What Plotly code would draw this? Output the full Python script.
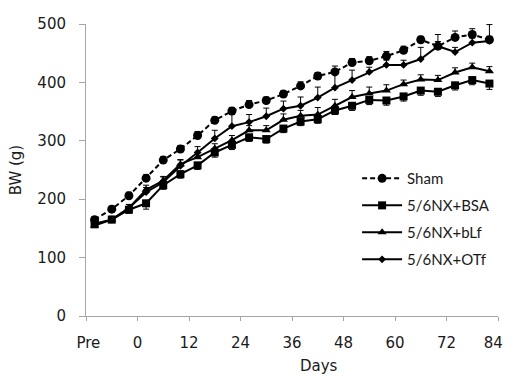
import plotly.graph_objects as go

# Sampling days (Pre-operative points are plotted before day 0)
days = [-10, -6, -2, 2, 6, 10, 14, 18, 22, 26, 30, 34,
        38, 42, 46, 50, 54, 58, 62, 66, 70, 74, 78, 82]

# Axis tick positions and labels
tick_days = [-12, 0, 12, 24, 36, 48, 60, 72, 84]
tick_text = ["\u00a0Pre", "0", "12", "24", "36", "48", "60", "72", "84\u00a0\u00a0"]

# Body weight (g), group means
sham = [165, 183, 206, 236, 267, 286, 309, 335, 351, 362, 369, 380,
        394, 411, 418, 434, 437, 445, 455, 473, 462, 477, 482, 473]
bsa = [157, 165, 182, 193, 224, 243, 258, 280, 293, 306, 303, 321,
       333, 337, 352, 360, 370, 369, 376, 386, 384, 395, 404, 398]
blf = [155, 165, 185, 216, 232, 260, 272, 287, 301, 318, 318, 336,
       343, 345, 360, 375, 381, 386, 397, 405, 404, 417, 426, 419]
otf = [158, 165, 185, 212, 229, 257, 280, 304, 325, 332, 342, 355,
       360, 374, 391, 404, 418, 430, 430, 440, 462, 452, 468, 471]

# Error (SE) for each group
sham_err = [5, 5, 6, 6, 6, 6, 7, 6, 6, 7, 6, 6, 7, 6, 10, 7, 7, 8, 7, 6, 20, 11, 10, 26]
bsa_err = [5, 5, 6, 10, 7, 7, 7, 8, 8, 7, 7, 7, 7, 7, 7, 8, 8, 8, 8, 8, 8, 8, 8, 10]
blf_err = [5, 5, 6, 8, 7, 8, 8, 8, 8, 8, 8, 10, 9, 12, 11, 11, 11, 10, 7, 8, 8, 8, 7, 8]
otf_err = [5, 6, 6, 8, 9, 10, 10, 14, 20, 13, 14, 13, 15, 18, 28, 17, 8, 8, 8, 20, 8, 8, 8, 8]

zeros = [0] * len(days)

fig = go.Figure()


def add_series(name, y, err, symbol, size, dash, minus=False):
    if minus:
        ebar = dict(type="data", symmetric=False, array=zeros, arrayminus=err,
                    color="black", thickness=1, width=3)
    else:
        ebar = dict(type="data", symmetric=False, array=err, arrayminus=zeros,
                    color="black", thickness=1, width=3)
    fig.add_trace(go.Scatter(
        x=days, y=y, name=name, mode="lines+markers",
        legendgroup=name,
        line=dict(color="black", width=2, dash=dash),
        marker=dict(symbol=symbol, size=size, color="black"),
        error_y=ebar,
    ))


add_series("Sham", sham, sham_err, "circle", 9, "5px,3px")
add_series("5/6NX+BSA", bsa, bsa_err, "square", 8, "solid", minus=True)
add_series("5/6NX+bLf", blf, blf_err, "triangle-up", 8, "solid")
add_series("5/6NX+OTf", otf, otf_err, "diamond", 6, "solid")

tick_font = dict(family="DejaVu Sans, sans-serif", size=15, color="#1a1a1a")
axis_grey = "#a6a6a6"

fig.update_layout(
    width=520, height=376,
    margin=dict(l=86, r=8, t=24, b=60),
    paper_bgcolor="white", plot_bgcolor="white",
    showlegend=True,
    legend=dict(
        x=0.658, y=0.527, xanchor="left", yanchor="top",
        font=dict(family="Lato, Carlito, sans-serif", size=15, color="#1a1a1a"),
        bgcolor="rgba(0,0,0,0)", tracegroupgap=4.5, itemwidth=40,
    ),
    xaxis=dict(
        range=[-12, 84], tickmode="array", tickvals=tick_days, ticktext=tick_text,
        showgrid=False, zeroline=False, showline=True, linecolor=axis_grey, linewidth=1,
        ticks="outside", ticklen=4, tickcolor=axis_grey, tickfont=tick_font,
        ticklabelstandoff=9, ticklabeloverflow="allow",
    ),
    yaxis=dict(
        range=[0, 500], tickmode="array", tickvals=[0, 100, 200, 300, 400, 500],
        showgrid=False, zeroline=False, showline=True, linecolor=axis_grey, linewidth=1,
        ticks="outside", ticklen=6, tickcolor=axis_grey, tickfont=tick_font,
        ticklabelstandoff=10,
    ),
    annotations=[
        dict(text="Days", xref="paper", yref="paper", x=(327 - 86) / 426, y=-50 / 292,
             xanchor="center", yanchor="middle", showarrow=False, font=tick_font),
        dict(text="BW (g)", xref="paper", yref="paper", x=-72 / 426, y=0.5,
             xanchor="center", yanchor="middle", showarrow=False, textangle=-90,
             font=tick_font),
    ],
)

fig.write_html("out.html")
